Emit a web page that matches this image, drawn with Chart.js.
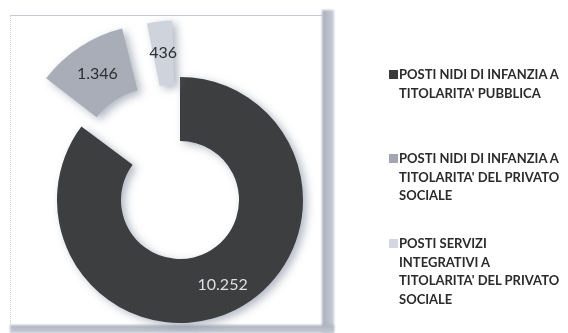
<!DOCTYPE html>
<html>
<head>
<meta charset="utf-8">
<script src="https://cdn.jsdelivr.net/npm/chart.js@4.4.1/dist/chart.umd.min.js"></script>
<style>
  html, body { margin: 0; padding: 0; background: #fff; }
  body { width: 568px; height: 333px; position: relative; overflow: hidden; }
  #panel {
    position: absolute; left: 10px; top: 15px; width: 311px; height: 309px;
    background: #fff; border-top: 1px solid #c6c9d0; border-left: 1px dotted #cfd2d8;
  }
  #shadowR {
    position: absolute; left: 322px; top: 10px; width: 12px; height: 323px;
    background: linear-gradient(to right, #a9aeba, #c9cdd6);
    filter: blur(1px);
  }
  #shadowB {
    position: absolute; left: 10px; top: 325px; width: 324px; height: 8px;
    background: linear-gradient(to bottom, #aeb3be, #c6cad3);
    filter: blur(1px);
  }
  #chart { position: absolute; left: 0; top: 0; }
  .legend-item {
    position: absolute; left: 389px;
    font-family: Lato, "Open Sans", sans-serif; font-weight: 700; font-size: 13px;
    line-height: 18.5px; color: #2b2b2d; white-space: nowrap;
  }
  .legend-item .box {
    position: absolute; left: 0; top: 5px; width: 9px; height: 9px;
  }
  .legend-item .txt { margin-left: 10px; }
</style>
</head>
<body>
<div id="panel"></div>
<div id="shadowR"></div>
<div id="shadowB"></div>
<canvas id="chart" width="568" height="333"></canvas>

<script>
// posti disponibili per tipologia di servizio
const labels = [
  ['POSTI NIDI DI INFANZIA A', "TITOLARITA' PUBBLICA"],
  ['POSTI NIDI DI INFANZIA A', "TITOLARITA' DEL PRIVATO", 'SOCIALE'],
  ['POSTI SERVIZI', 'INTEGRATIVI A', "TITOLARITA' DEL PRIVATO", 'SOCIALE']
];
const posti = [10252, 1346, 436];
const colori = ['#3d3e40', '#a9adb8', '#cfd3dc'];
const coloriLegenda = ['#3a3b3d', '#a3a6b0', '#d3d7df'];
const esplosione = [0, 177, 128];
const legendTop = [65, 149, 234];

const fmt = v => v.toLocaleString('it-IT');

// ombra sotto la ciambella e valori scritti sopra ogni spicchio
const etichette = {
  id: 'etichette',
  beforeDatasetsDraw(chart) {
    const ctx = chart.ctx;
    ctx.save();
    ctx.shadowColor = 'rgba(115,125,145,0.55)';
    ctx.shadowBlur = 8;
    ctx.shadowOffsetX = 4;
    ctx.shadowOffsetY = 3;
  },
  afterDatasetsDraw(chart) {
    const ctx = chart.ctx;
    ctx.restore();
    const meta = chart.getDatasetMeta(0);
    ctx.save();
    ctx.textAlign = 'center';
    ctx.textBaseline = 'middle';
    ctx.font = '16px Lato';
    meta.data.forEach((arc, i) => {
      const p = arc.getProps(['x', 'y', 'startAngle', 'endAngle', 'innerRadius', 'outerRadius']);
      const mid = (p.startAngle + p.endAngle) / 2;
      // lo spicchio esploso viene spostato di offset/4 e allargato di offset/4 * fix
      const t = esplosione[i] / 4;
      const fix = 1 - Math.sin(Math.min(Math.PI, p.endAngle - p.startAngle));
      const r = (p.innerRadius + p.outerRadius) / 2 + t + t * fix + (i === 0 ? 4 : 0);
      ctx.fillStyle = i === 0 ? '#dedfe2' : '#2e2f33';
      ctx.fillText(fmt(posti[i]), p.x + Math.cos(mid) * r, p.y + Math.sin(mid) * r);
    });
    ctx.restore();
  }
};

new Chart(document.getElementById('chart'), {
  type: 'doughnut',
  data: {
    labels: labels,
    datasets: [{
      data: posti,
      backgroundColor: colori,
      borderWidth: 0,
      offset: esplosione,
      clip: false
    }]
  },
  options: {
    responsive: false,
    animation: false,
    devicePixelRatio: 1,
    radius: 123,
    cutout: '48%',
    layout: { padding: { left: 30, right: 238, top: 70, bottom: 3 } },
    plugins: { legend: { display: false }, tooltip: { enabled: false } }
  },
  plugins: [etichette]
});

// legenda a destra
labels.forEach((righe, i) => {
  const el = document.createElement('div');
  el.className = 'legend-item';
  el.style.top = legendTop[i] + 'px';
  const box = document.createElement('span');
  box.className = 'box';
  box.style.background = coloriLegenda[i];
  const txt = document.createElement('div');
  txt.className = 'txt';
  righe.forEach((riga, j) => {
    if (j) txt.appendChild(document.createElement('br'));
    txt.appendChild(document.createTextNode(riga));
  });
  el.appendChild(box);
  el.appendChild(txt);
  document.body.appendChild(el);
});
</script>
</body>
</html>
